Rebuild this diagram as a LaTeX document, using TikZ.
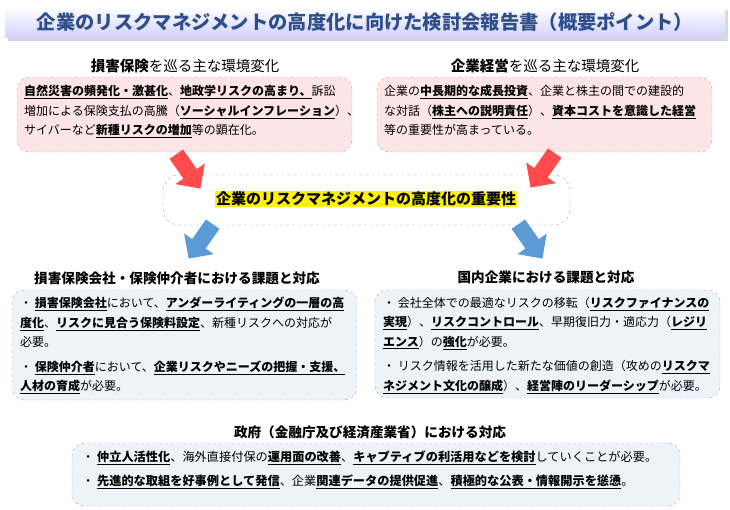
\documentclass[tikz,border=0pt]{standalone}
\usepackage{fontspec}
\setmainfont{Noto Sans CJK JP}
\usetikzlibrary{shapes.arrows,shadows}
\newcommand{\ub}[1]{\underline{\textbf{#1}}}
\definecolor{pinkf}{HTML}{FDE4E7}
\definecolor{bluef}{HTML}{EEF3FA}
\definecolor{titleblue}{HTML}{2F4F8A}
\definecolor{redarr}{HTML}{FF4B4B}
\definecolor{bluearr}{HTML}{5B9BD5}
\begin{document}
\begin{tikzpicture}[x=1pt,y=-1pt,
  box/.style={draw=gray!70,dashed,rounded corners=12pt,inner sep=0pt},
  body/.style={font=\fontsize{12}{19.5}\selectfont,align=left,anchor=north west,inner sep=0pt},
  head/.style={font=\fontsize{14.5}{16}\selectfont},
  redar/.style={single arrow,fill=redarr,minimum height=42pt,minimum width=36pt,single arrow head extend=5pt,inner sep=4pt},
  bluear/.style={single arrow,fill=bluearr,minimum height=42pt,minimum width=36pt,single arrow head extend=5pt,inner sep=4pt}]
\useasboundingbox (0,0) rectangle (730,510);
% title
\shade[top color=white,bottom color=blue!18!white,drop shadow={opacity=0.3}] (5,7) rectangle (725,38);
\node[font=\fontsize{19.3}{22}\selectfont\bfseries,text=titleblue] (title) at (365,22) {企業のリスクマネジメントの高度化に向けた検討会報告書（概要ポイント）};
% top boxes
\node[head] (h1) at (185,66) {\textbf{損害保険}を巡る主な環境変化};
\draw[box,fill=pinkf] (17,77) rectangle (352,152);
\node[body] (t1) at (24,85) {\ub{自然災害の頻発化・激甚化}、\ub{地政学リスクの高まり、}訴訟\\増加による保険支払の高騰（\ub{ソーシャルインフレーション}）、\\サイバーなど\ub{新種リスクの増加}等の顕在化。};
\node[head] (h2) at (545,66) {\textbf{企業経営}を巡る主な環境変化};
\draw[box,fill=pinkf] (377,77) rectangle (712,152);
\node[body] (t2) at (384,85) {企業の\ub{中長期的な成長投資}、企業と株主の間での建設的\\な対話（\ub{株主への説明責任}）、\ub{資本コストを意識した経営}\\等の重要性が高まっている。};
% center
\draw[box,fill=white,rounded corners=16pt] (163,175) rectangle (570,225);
\node[font=\fontsize{15}{17}\selectfont\bfseries,fill=yellow,inner sep=1pt] (c) at (366,199) {企業のリスクマネジメントの高度化の重要性};
\node[redar,rotate=-55] (ra1) at (186,168) {};
\node[redar,rotate=-125] (ra2) at (545,167) {};
\node[bluear,rotate=-125] (ba1) at (203,238) {};
\node[bluear,rotate=-55] (ba2) at (528,238) {};
% middle boxes
\node[head,font=\fontsize{13.6}{16}\selectfont] (h3) at (177,278) {\textbf{損害保険会社・保険仲介者における課題と対応}};
\draw[box,fill=bluef] (12,290) rectangle (357,400);
\node[body] (t3) at (20,297) {・\ \ub{損害保険会社}において、\ub{アンダーライティングの一層の高}\\\ub{度化}、\ub{リスクに見合う保険料設定}、新種リスクへの対応が\\必要。\\[5pt]・\ \ub{保険仲介者}において、\ub{企業リスクやニーズの把握・支援、}\\\ub{人材の育成}が必要。};
\node[head,font=\fontsize{13.6}{16}\selectfont] (h4) at (546,277) {\textbf{国内企業における課題と対応}};
\draw[box,fill=bluef] (375,290) rectangle (720,398);
\node[body] (t4) at (383,297) {・\ 会社全体での最適なリスクの移転（\ub{リスクファイナンスの}\\\ub{実現}）、\ub{リスクコントロール}、早期復旧力・適応力（\ub{レジリ}\\\ub{エンス}）の\ub{強化}が必要。\\[5pt]・\ リスク情報を活用した新たな価値の創造（攻めの\ub{リスクマ}\\\ub{ネジメント文化の醸成}）、\ub{経営陣のリーダーシップ}が必要。};
% bottom
\node[head,font=\fontsize{13.6}{16}\selectfont] (h5) at (370,432) {\textbf{政府（金融庁及び経済産業省）における対応}};
\draw[box,fill=bluef] (72,443) rectangle (680,506);
\node[body,font=\fontsize{12.2}{24}\selectfont] (t5) at (82,451) {・\ \ub{仲立人活性化}、海外直接付保の\ub{運用面の改善}、\ub{キャプティブの利活用などを検討}していくことが必要。\\・\ \ub{先進的な取組を好事例として発信}、企業\ub{関連データの提供促進}、\ub{積極的な公表・情報開示を慫慂}。};
\end{tikzpicture}
\end{document}
